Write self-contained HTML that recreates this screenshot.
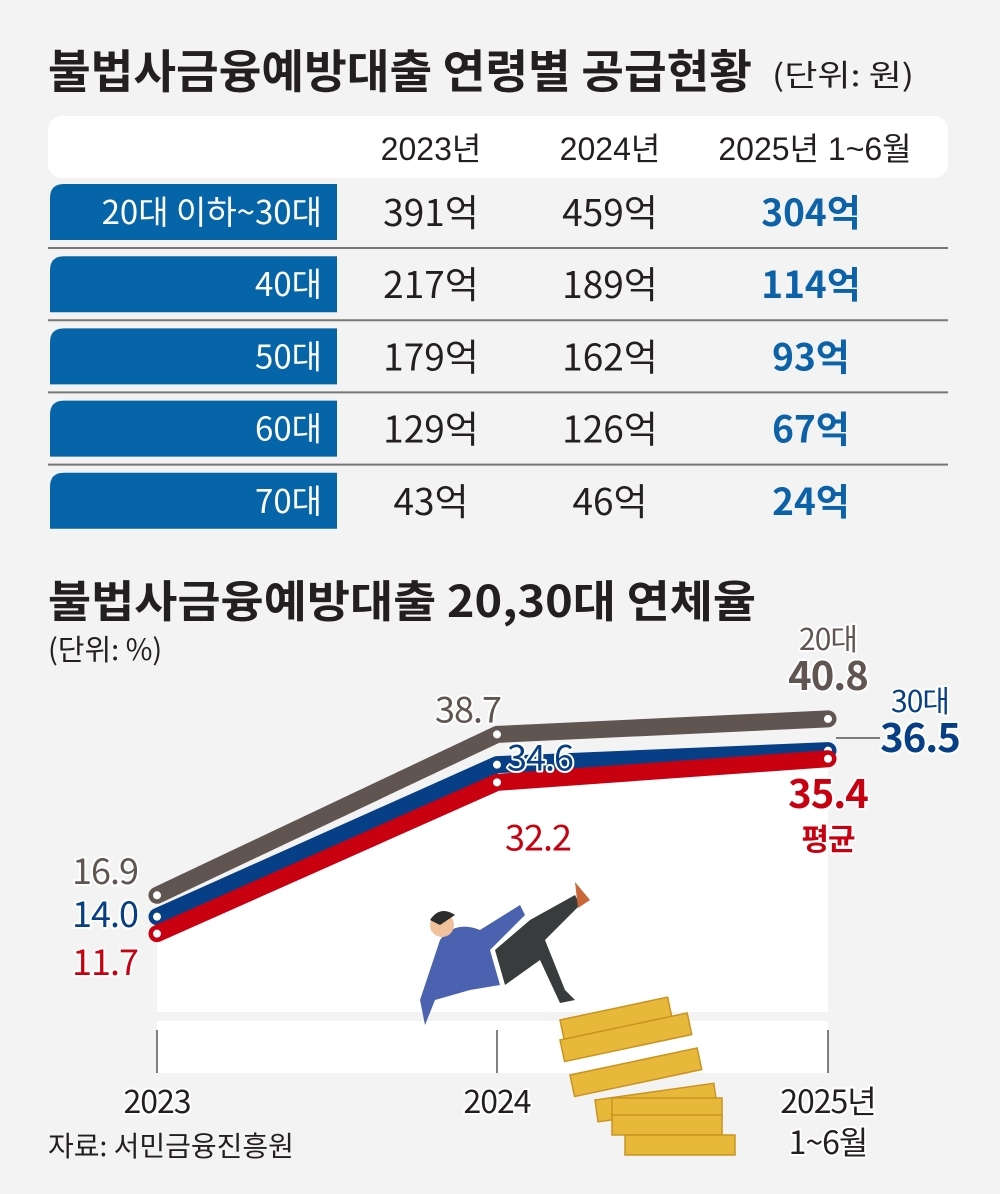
<!DOCTYPE html>
<html><head><meta charset="utf-8"><style>
body{margin:0;background:#f3f3f3}
svg{display:block}
text{font-family:"Liberation Sans","Noto Sans CJK KR",sans-serif}
.k{font-family:"Noto Sans CJK KR","Liberation Sans",sans-serif}
</style></head><body>
<svg width="1000" height="1194" viewBox="0 0 1000 1194">
<rect width="1000" height="1194" fill="#f3f3f3"/>
<text x="48" y="88" class="k" font-size="46" font-weight="700" fill="#231f20" textLength="704" lengthAdjust="spacingAndGlyphs">불법사금융예방대출 연령별 공급현황</text>
<text x="772" y="86" class="k" font-size="30" fill="#231f20" textLength="142" lengthAdjust="spacingAndGlyphs">(단위: 원)</text>
<rect x="48" y="116" width="900" height="62" rx="14" fill="#fff"/>
<g class="k" font-size="32" fill="#231f20" text-anchor="middle">
<text x="431" y="160">2023년</text>
<text x="610" y="160">2024년</text>
<text x="815" y="160">2025년 1~6월</text>
</g>
<g id="rows"></g>
<text x="48" y="617" class="k" font-size="44" font-weight="700" fill="#231f20" textLength="708" lengthAdjust="spacingAndGlyphs">불법사금융예방대출 20,30대 연체율</text>
<text x="48" y="660" class="k" font-size="29" fill="#231f20">(단위: %)</text>
<g id="chart"></g>
<text x="48" y="1156" class="k" font-size="28" fill="#231f20">자료: 서민금융진흥원</text>
</svg>
<script>
const NS="http://www.w3.org/2000/svg";
function mk(p,t,a){const e=document.createElementNS(NS,t);for(const k in a)e.setAttribute(k,a[k]);p.appendChild(e);return e;}
// table data
const ageGroups=["20대 이하~30대","40대","50대","60대","70대"];
const v2023=[391,217,179,129,43];
const v2024=[459,189,162,126,46];
const v2025=[304,114,93,67,24];
const rows=document.getElementById('rows');
ageGroups.forEach((g,i)=>{
  const y=184+i*72.2;
  const b=mk(rows,'path',{d:`M50 ${y+56}V${y+14}Q50 ${y} 64 ${y}H337V${y+56}Z`,fill:'#0565a8'});
  
  
  const t=mk(rows,'text',{x:322,y:y+40,'font-size':33,fill:'#fff','text-anchor':'end',class:'k'});
  t.textContent=g;
  
  
  [[v2023,431,'#231f20',400],[v2024,610,'#231f20',400],[v2025,811,'#0b62a8',700]].forEach(([arr,x,c,w])=>{
    const n=mk(rows,'text',{x:x,y:y+42,'font-size':37,fill:c,'font-weight':w,'text-anchor':'middle',class:'k'});
    n.textContent=arr[i]+'억';
    
    
  });
  if(i<4){const l=mk(rows,'line',{x1:48,x2:948,y1:y+64,y2:y+64,stroke:'#777','stroke-width':2});
    
    }
});
// chart data
const years=["2023","2024","2025년"];
const s20=[16.9,38.7,40.8];
const s30=[14.0,34.6,36.5];
const sAvg=[11.7,32.2,35.4];
const xs=[157,497,828];
const X=i=>xs[i];
const Y=v=>1020-7.38*v;
const ch=document.getElementById('chart');
let d=`M${X(0)} ${Y(sAvg[0])}`;sAvg.forEach((v,i)=>d+=`L${X(i)} ${Y(v)}`);d+=`L${X(2)} 1012L${X(0)} 1012Z`;
const wa=mk(ch,'path',{d:d,fill:'#fff'});


const wb=mk(ch,'rect',{x:157,y:1021,width:671,height:52,fill:'#fff'});


xs.forEach((x,i)=>{const t=mk(ch,'line',{x1:x,x2:x,y1:1030,y2:1073,stroke:'#555','stroke-width':1.5});
 
 });
const fig=mk(ch,'g',{});


[[560,1020,110,20,-12],[560,1040,130,22,-12],[570,1075,130,22,-12],[595,1100,120,22,-8],[612,1098,110,20,0],[612,1115,110,20,0],[625,1135,110,20,0]].forEach(([x,y,w,h,r])=>{
  mk(fig,'rect',{x:x,y:y,width:w,height:h,fill:'#e8b83a',stroke:'#c9941e','stroke-width':1.5,transform:`rotate(${r} ${x} ${y})`});
});
mk(fig,'path',{d:'M440 940 Q455 920 480 930 L520 905 L525 915 L490 950 L500 985 L470 990 L435 1000 L425 1025 L420 1000Z',fill:'#4b62b0'});
mk(fig,'path',{d:'M495 950 L530 920 L575 895 L580 905 L545 940 L565 990 L575 1000 L560 1003 L540 960 L505 985Z',fill:'#383c3c'});
mk(fig,'circle',{cx:442,cy:925,r:12,fill:'#f0c29c'});
mk(fig,'path',{d:'M430 920 Q440 905 455 915 L440 925Z',fill:'#2b2b2b'});
mk(fig,'path',{d:'M575 882 L590 900 L578 908Z',fill:'#c86838'});
[[s20,'#605550'],[s30,'#063f86'],[sAvg,'#c9000f']].forEach(([arr,c],si)=>{
  const p=arr.map((v,i)=>`${X(i)},${Y(v)}`).join(' ');
  const pl=mk(ch,'polyline',{points:p,fill:'none',stroke:c,'stroke-width':17,'stroke-linejoin':'round','stroke-linecap':'round'});
  
  
  arr.forEach((v,i)=>{const m=mk(ch,'circle',{cx:X(i),cy:Y(v),r:4.5,fill:'#fff',stroke:c,'stroke-width':1});
    
    });
});
function lab(txt,x,y,c,size,anchor,w,name){const t=mk(ch,'text',{x:x,y:y,fill:c,'font-size':size,'text-anchor':anchor||'middle','font-weight':w||400,class:'k',stroke:'#fff','stroke-width':4,'paint-order':'stroke','stroke-linejoin':'round','letter-spacing':-1});
 t.textContent=txt;
 
 return t;}
lab(s20[0].toFixed(1),105,884,'#605550',36,'middle',400,'label-20s-2023');
lab(s30[0].toFixed(1),105,927,'#063f86',36,'middle',400,'label-30s-2023');
lab(sAvg[0].toFixed(1),105,975,'#c9000f',36,'middle',400,'label-avg-2023');
lab(s20[1].toFixed(1),468,Y(s20[1])-12,'#605550',36,'middle',400,'label-20s-2024');
lab(s30[1].toFixed(1),540,Y(s30[1])+6,'#063f86',36,'middle',400,'label-30s-2024');
lab(sAvg[1].toFixed(1),538,Y(sAvg[1])+68,'#c9000f',36,'middle',400,'label-avg-2024');
lab('20대',828,650,'#605550',30,'middle',400,'label-20s-name');
lab(s20[2].toFixed(1),828,690,'#605550',40,'middle',700,'label-20s-2025');
lab('30대',920,712,'#063f86',30,'middle',400,'label-30s-name');
lab(s30[2].toFixed(1),920,752,'#063f86',40,'middle',700,'label-30s-2025');
const cl=mk(ch,'line',{x1:836,x2:880,y1:738,y2:738,stroke:'#555','stroke-width':1.5});


lab(sAvg[2].toFixed(1),828,808,'#c9000f',40,'middle',700,'label-avg-2025');
lab('평균',828,850,'#c9000f',30,'middle',700,'label-avg-name');
lab(years[0],157,1113,'#231f20',32,'middle',400,'x-label-2023');
lab(years[1],497,1113,'#231f20',32,'middle',400,'x-label-2024');
lab(years[2],828,1113,'#231f20',32,'middle',400,'x-label-2025');
lab('1~6월',828,1154,'#231f20',32,'middle',400,'x-label-2025-sub');
</script>
</body></html>
